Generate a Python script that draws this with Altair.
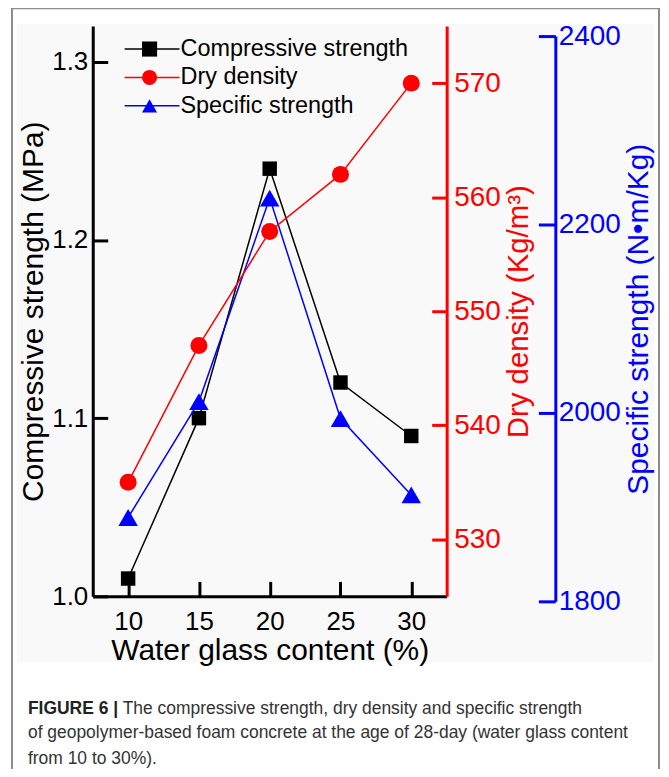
import altair as alt
import pandas as pd

# ---------------- data ----------------
water_glass = [10, 15, 20, 25, 30]
compressive = [1.01, 1.10, 1.24, 1.12, 1.09]
dry_density = [535, 547, 557, 562, 570]
specific = [1889, 2012, 2228, 1994, 1913]

series_names = ["Compressive strength", "Dry density", "Specific strength"]
series_colors = ["#000000", "#ff0000", "#0000ff"]
series_shapes = ["square", "circle", "triangle-up"]

x_ticks = [10, 15, 20, 25, 30]
left_ticks = [1.0, 1.1, 1.2, 1.3]
red_ticks = [530, 540, 550, 560, 570]
blue_ticks = [1800, 2000, 2200, 2400]

caption_bold = "FIGURE 6 |"
caption_lines = [
    "The compressive strength, dry density and specific strength",
    "of geopolymer-based foam concrete at the age of 28-day (water glass content",
    "from 10 to 30%).",
]

df = pd.DataFrame({"x": water_glass, "cs": compressive, "dd": dry_density, "ss": specific})
leg_df = pd.DataFrame({"name": series_names})
one = pd.DataFrame({"a": [0]})

FONT = "Liberation Sans"
W, H = 355, 572

x_scale = alt.Scale(domain=[7.5, 32.5], nice=False, zero=False)
left_scale = alt.Scale(domain=[1.0, 1.32], nice=False, zero=False)
red_scale = alt.Scale(domain=[525, 575], nice=False, zero=False)
blue_scale = alt.Scale(domain=[1800, 2400], range=[577, 10], nice=False, zero=False)

common = dict(grid=False, labelFlush=False, labelOverlap=False, labelBound=False, zindex=2,
              labelFont=FONT, titleFont=FONT, titleFontWeight="normal")

x_axis_main = alt.Axis(values=x_ticks, orient="bottom", title="Water glass content (%)", ticks=False, tickSize=0,
                       domainWidth=3, domainColor="black", labelColor="black", labelFontSize=26,
                       labelPadding=12, titleFontSize=30, titlePadding=1, titleColor="black", **common)
left_axis_main = alt.Axis(values=left_ticks, format=".1f", orient="left", title="Compressive strength (MPa)",
                          ticks=False, tickSize=0, domainWidth=3, domainColor="black", labelColor="black",
                          labelFontSize=26, labelPadding=5, titleFontSize=30, titlePadding=3,
                          titleColor="black", **common)
red_axis_main = alt.Axis(values=red_ticks, format="d", orient="right", title="Dry density (Kg/m³)",
                         ticks=False, tickSize=0,
                         domainWidth=3, domainColor="#ff0000", labelColor="#ff0000", labelFontSize=28,
                         labelPadding=7, titleFontSize=29.5, titlePadding=4, titleColor="#ff0000",
                         titleAngle=270, titleBaseline="top", **common)
blue_axis_main = alt.Axis(values=blue_ticks, format="d", orient="right", offset=109,
                          title="Specific strength (N•m/Kg)",
                          ticks=False, tickSize=0, domainWidth=3, domainColor="#0000ff", labelColor="#0000ff",
                          labelFontSize=28, labelPadding=3, titleFontSize=30, titlePadding=3,
                          titleColor="#0000ff", titleAngle=270, titleBaseline="top", **common)


def tick_axis(values, orient, offset, size, color):
    return alt.Axis(values=values, orient=orient, offset=offset, tickSize=size, tickWidth=3, tickColor=color,
                    ticks=True, labels=False, domain=False, title=None, grid=False, zindex=2)


def series(field, color, shape, size, scale, y_axis, x_axis):
    base = alt.Chart(df).encode(
        x=alt.X("x:Q", scale=x_scale, axis=x_axis),
        y=alt.Y(f"{field}:Q", scale=scale, axis=y_axis),
    )
    return base.mark_line(color=color, strokeWidth=1.5) + base.mark_point(
        shape=shape, filled=True, color=color, size=size, opacity=1)


# decorations
background = alt.Chart(one).mark_rect(color="#f9f9f9").encode(
    x=alt.value(-76), x2=alt.value(563), y=alt.value(-2), y2=alt.value(638))
frame = alt.Chart(one).mark_rect(fillOpacity=0, stroke="#8c8c8c", strokeWidth=2).encode(
    x=alt.value(-81), x2=alt.value(568), y=alt.value(-18), y2=alt.value(800))

# inward ticks
ticks_left = alt.Chart(df).mark_point(opacity=0).encode(
    x=alt.X("x:Q", scale=x_scale, axis=tick_axis(x_ticks, "bottom", -15, 15, "black")),
    y=alt.Y("cs:Q", scale=left_scale, axis=tick_axis(left_ticks, "left", -15, 15, "black")),
)
ticks_red = alt.Chart(df).mark_point(opacity=0).encode(
    x=alt.X("x:Q", scale=x_scale, axis=None),
    y=alt.Y("dd:Q", scale=red_scale, axis=tick_axis(red_ticks, "right", -15, 15, "#ff0000")),
)
ticks_blue = alt.Chart(df).mark_point(opacity=0).encode(
    x=alt.X("x:Q", scale=x_scale, axis=None),
    y=alt.Y("ss:Q", scale=blue_scale, axis=tick_axis(blue_ticks, "right", 92, 17, "#0000ff")),
)

black = series("cs", "#000000", "square", 210, left_scale, left_axis_main, x_axis_main)
blue = series("ss", "#0000ff", "triangle-up", 380, blue_scale, blue_axis_main, None)
red = series("dd", "#ff0000", "circle", 290, red_scale, red_axis_main, None)

# legend
y_leg = alt.Y("name:N", scale=alt.Scale(type="point", domain=series_names, range=[23, 80], padding=0), axis=None)
c_leg = alt.Color("name:N", scale=alt.Scale(domain=series_names, range=series_colors), legend=None)
leg_rule = alt.Chart(leg_df).mark_rule(strokeWidth=1.5).encode(
    x=alt.value(32), x2=alt.value(87), y=y_leg, color=c_leg)
leg_pt = alt.Chart(leg_df).mark_point(filled=True, opacity=1, size=230).encode(
    x=alt.value(57), y=y_leg, color=c_leg,
    shape=alt.Shape("name:N", scale=alt.Scale(domain=series_names, range=series_shapes), legend=None))
leg_txt = alt.Chart(leg_df).mark_text(align="left", baseline="middle", font=FONT, fontSize=23.5,
                                      color="black", dx=1).encode(
    x=alt.value(87), y=y_leg, text="name:N")

# caption
cap_layers = [alt.Chart(one).mark_text(align="left", baseline="alphabetic", font=FONT, fontSize=17.5,
                                        fontWeight="bold", color="#222222").encode(
    x=alt.value(-65), y=alt.value(690), text=alt.value(caption_bold))]
cap_x = [30, -65, -65]
cap_y = [690, 714, 740]
for t, cx, cy in zip(caption_lines, cap_x, cap_y):
    cap_layers.append(alt.Chart(one).mark_text(align="left", baseline="alphabetic", font=FONT, fontSize=17.5,
                                                color="#333333").encode(
        x=alt.value(cx), y=alt.value(cy), text=alt.value(t)))

chart = alt.layer(
    background, frame, ticks_left, ticks_red, ticks_blue, black, blue, red,
    leg_rule, leg_pt, leg_txt, *cap_layers
).resolve_scale(y="independent", x="shared").resolve_axis(x="independent", y="independent").properties(
    width=W, height=H,
    autosize=alt.AutoSizeParams(type="none"),
    padding={"left": 85, "top": 17, "right": 215, "bottom": 172},
).configure_view(strokeWidth=0)

chart.save("out.html", embed_options={"renderer": "svg", "actions": False})
